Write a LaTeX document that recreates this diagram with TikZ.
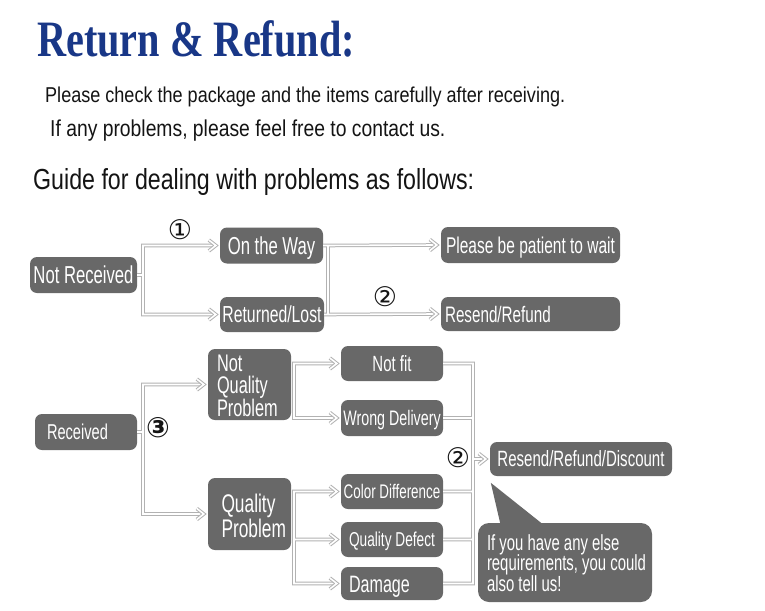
\documentclass[tikz,border=0pt]{standalone}
\usepackage{fontspec}
\setmainfont{Liberation Sans}
\newfontfamily\bx{Liberation Sans}[FakeStretch=0.68]
\newfontfamily\hdr{Liberation Sans}[FakeStretch=0.84]
\newfontfamily\hdrb{Liberation Sans}[FakeStretch=0.80]
\newfontfamily\ttl{Liberation Serif}[FakeStretch=0.79]
\newfontfamily\circfont{DejaVu Sans}
\usetikzlibrary{calc}
\definecolor{boxgray}{RGB}{104,104,104}
\definecolor{linegray}{RGB}{178,178,178}
\definecolor{titleblue}{RGB}{25,55,135}
\definecolor{ink}{RGB}{20,20,20}
\begin{document}
\begin{tikzpicture}[x=1pt,y=-1pt,
  box/.style={fill=boxgray, rounded corners=7pt, text=white, inner sep=0pt, align=center, text depth=0pt},
  fs/.style={font=\bx\fontsize{#1}{21.5}\selectfont},
  conn/.style={draw=linegray, double=white, double distance=1.6pt, line width=1pt},
  circ/.style={font=\circfont\fontsize{27}{27}\selectfont, inner sep=0pt, text=ink},
  hdrtext/.style={anchor=base west, inner sep=0pt, text=ink}]
\useasboundingbox (0,0) rectangle (765,610);
\fill[white] (0,0) rectangle (765,610);

% header
\node[anchor=base west, inner sep=0pt, text=titleblue, font=\ttl\bfseries\fontsize{51}{51}\selectfont] (title) at (37,56.5) {Return \& Refund:};
\node[hdrtext, font=\hdr\fontsize{21.5}{21.5}\selectfont] (l1) at (45,102.5) {Please check the package and the items carefully after receiving.};
\node[hdrtext, font=\hdr\fontsize{23}{23}\selectfont] (l2) at (50,136) {If any problems, please feel free to contact us.};
\node[hdrtext, font=\hdrb\fontsize{29}{29}\selectfont] (l3) at (33,189) {Guide for dealing with problems as follows:};

% boxes
\node[box, fs=24.5, text height=17.5pt, minimum width=107pt, minimum height=36pt] (nr) at (83.5,275) {Not Received};
\node[box, fs=24.5, text height=17.5pt, minimum width=103pt, minimum height=36pt] (ow) at (271.5,245.5) {On the Way};
\node[box, fs=23.2, text height=16.6pt, minimum width=104pt, minimum height=35pt] (rl) at (272,314.5) {Returned/Lost};
\node[box, fs=22.8, text height=16.3pt, minimum width=179pt, minimum height=36pt] (pb) at (530.5,245) {Please be patient to wait};
\node[box, fs=22.4, text height=16pt, text width=171pt, inner xsep=4pt, align=left, minimum height=34pt] (rr) at (530.5,314) {Resend/Refund};

\node[box, fs=21.5, text height=15.4pt, text width=78pt, inner xsep=12pt, align=left, minimum height=36pt] (rc) at (86,432) {Received};
\node[box, fs=24, text height=17.2pt, text depth=43pt, text width=65pt, inner xsep=9pt, align=left, minimum height=71pt] (nqp) at (249.5,384.5) {Not\\Quality\\Problem};
\node[box, fs=25.5, text height=18.3pt, text depth=21.5pt, text width=56pt, inner xsep=13.5pt, align=left, minimum height=72pt] (qp) at (249.5,514) {Quality\\Problem};

\node[box, fs=22, text height=15.8pt, minimum width=102pt, minimum height=35pt] (nf) at (392,363.5) {Not fit};
\node[box, fs=21, text height=15pt, minimum width=102pt, minimum height=36pt] (wd) at (392,418) {Wrong Delivery};
\node[box, fs=19.7, text height=14.1pt, minimum width=102pt, minimum height=35pt] (cd) at (392,491.5) {Color Difference};
\node[box, fs=20.1, text height=14.4pt, minimum width=102pt, minimum height=35pt] (qd) at (392,539.5) {Quality Defect};
\node[box, fs=23.7, text height=17pt, text width=86pt, inner xsep=8pt, align=left, minimum height=33pt] (dm) at (392,583.5) {Damage};

\node[box, fs=22.1, text height=15.8pt, minimum width=182pt, minimum height=34pt] (rrd) at (581,459) {Resend/Refund/Discount};

% speech bubble
\node[box, rounded corners=11pt, minimum width=174pt, minimum height=79pt] (bub) at (565,562.5) {};
\fill[boxgray] ($(bub.north west)+(23,3)$) -- ($(bub.north west)+(13,-40)$) -- ($(bub.north west)+(67,3)$) -- cycle;
\node[anchor=north west, inner sep=0pt, text=white, align=left, font=\bx\fontsize{21.9}{20.5}\selectfont, text height=56.7pt, text depth=0pt] (bubt) at ($(bub.north west)+(9,11.5)$) {If you have any else\\requirements, you could\\also tell us!};

% junctions
\coordinate (j1) at (143,275);
\coordinate (j2) at (328,280);
\coordinate (j6) at (143,432);
\coordinate (j3) at (294,390);
\coordinate (j4) at (294,539.5);
\coordinate (j5) at (473,459);

% connectors
\draw[conn]
  ([xshift=-4pt]ow.west) -| (j1) |- ([xshift=-4pt]rl.west)
  (nr.east) -- (j1)
  (ow.east) -- ([xshift=-4pt]pb.west)
  (rl.east) -- ([xshift=-4pt]rr.west)
  (ow.east -| j2) -- (rl.east -| j2)
  ([xshift=-4pt]nqp.west) -| (j6) |- ([xshift=-4pt]qp.west)
  (rc.east) -- (j6)
  ([xshift=-4pt]nf.west) -| (j3) |- ([xshift=-4pt]wd.west)
  ([xshift=-4pt]cd.west) -| (j4) |- ([xshift=-4pt]dm.west)
  (j4) -- ([xshift=-4pt]qd.west)
  (nf.east) -| (j5) |- (dm.east)
  (wd.east) -- (wd.east -| j5)
  (cd.east) -- (cd.east -| j5)
  (qd.east) -- (qd.east -| j5)
  (j5) -- ([xshift=-4pt]rrd.west);

\foreach \t in {ow,rl,pb,rr,nqp,qp,nf,wd,cd,qd,dm,rrd}
  \draw[conn] ([xshift=-11pt,yshift=5.5pt]\t.west) -- ([xshift=-4pt]\t.west) -- ([xshift=-11pt,yshift=-5.5pt]\t.west);

% circled numbers
\node[circ] (c1) at (180,230) {①};
\node[circ] (c2) at (385,297) {②};
\node[circ, font=\circfont\bfseries\fontsize{28}{28}\selectfont] (c3) at (158,428) {③};
\node[circ] (c4) at (458,458) {②};
\end{tikzpicture}
\end{document}
